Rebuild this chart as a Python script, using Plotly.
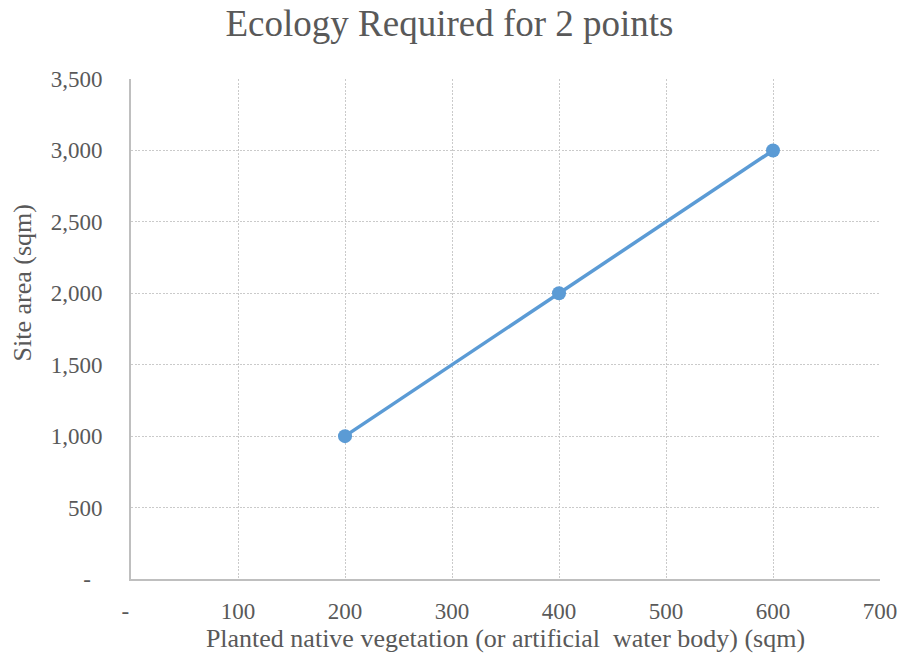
import plotly.graph_objects as go

# Planted native vegetation (sqm) vs. site area (sqm)
vegetation = [200, 400, 600]
site_area = [1000, 2000, 3000]

# zero is shown as an accounting-style dash, padded like the number format
x_ticks = [0, 100, 200, 300, 400, 500, 600, 700]
x_ticktext = ["-\u00a0\u00a0", "100", "200", "300", "400", "500", "600", "700"]
y_ticks = [0, 500, 1000, 1500, 2000, 2500, 3000, 3500]
y_ticktext = ["-\u00a0\u00a0", "500", "1,000", "1,500", "2,000", "2,500", "3,000", "3,500"]

serif = "Liberation Serif, Times New Roman, serif"
text_grey = "#595959"
grid_grey = "#CACACA"

fig = go.Figure()
fig.add_trace(go.Scatter(
    x=vegetation, y=site_area, mode="lines+markers",
    line=dict(color="#5B9BD5", width=3.5),
    marker=dict(color="#5B9BD5", size=14),
    showlegend=False,
))

fig.update_layout(
    width=899, height=661,
    margin=dict(l=131, r=19, t=79, b=82),
    paper_bgcolor="white", plot_bgcolor="white",
    title=dict(text="Ecology Required for 2 points", x=0.5, xanchor="center",
               y=0.965, yanchor="middle",
               font=dict(family=serif, size=37, color=text_grey)),
    font=dict(family=serif, color=text_grey),
)

# vertical axis title, placed as a rotated annotation
fig.add_annotation(
    text="Site area (sqm)", textangle=-90,
    xref="paper", yref="paper", x=-0.145, y=0.592,
    xanchor="center", yanchor="middle", showarrow=False,
    font=dict(size=26, family=serif, color=text_grey),
)

fig.update_xaxes(
    range=[0, 700], tickvals=x_ticks, ticktext=x_ticktext,
    tickfont=dict(size=23, family=serif, color=text_grey),
    ticklabelstandoff=10, automargin=False,
    showgrid=True, gridcolor=grid_grey, griddash="2px,1.5px", gridwidth=1,
    showline=True, linecolor="#BFBFBF", linewidth=2,
    zeroline=False, ticks="",
    title=dict(text="Planted native vegetation (or artificial  water body) (sqm)",
               font=dict(size=26, family=serif, color=text_grey), standoff=6),
)
fig.update_yaxes(
    range=[0, 3500], tickvals=y_ticks, ticktext=y_ticktext,
    tickfont=dict(size=23, family=serif, color=text_grey),
    ticklabelstandoff=22, automargin=False,
    showgrid=True, gridcolor=grid_grey, griddash="2px,1.5px", gridwidth=1,
    showline=True, linecolor="#BFBFBF", linewidth=2,
    zeroline=False, ticks="",
)

fig.write_html("out.html")
